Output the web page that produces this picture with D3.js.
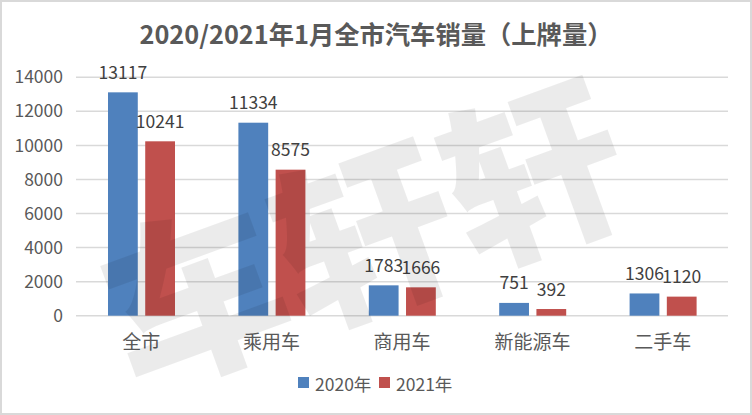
<!DOCTYPE html>
<html><head><meta charset="utf-8">
<script src="https://cdn.jsdelivr.net/npm/d3@7"></script>
<style>body{margin:0;background:#fff}svg{display:block}</style>
</head><body>
<script>
const categories = ["全市","乘用车","商用车","新能源车","二手车"];
const seriesNames = ["2020年","2021年"];
const values2020 = [13117,11334,1783,751,1306];
const values2021 = [10241,8575,1666,392,1120];
const yTicks = [0,2000,4000,6000,8000,10000,12000,14000];
const colors = ["#4f81bd","#c0504d"];
const title = "2020/2021年1月全市汽车销量（上牌量）";

const W=752,H=415;
const svg=d3.select("body").append("svg").attr("width",W).attr("height",H);
const font='"Noto Sans CJK SC","Noto Sans",sans-serif';
svg.append("rect").attr("x",1).attr("y",1).attr("width",W-2).attr("height",H-2)
  .attr("fill","#fff").attr("stroke","#d9d9d9").attr("stroke-width",2);

svg.append("text").attr("x",376).attr("y",33).attr("text-anchor","middle")
  .attr("dominant-baseline","central").attr("font-family",font).attr("font-weight","bold")
  .attr("font-size",25.3).attr("fill","#595959").text(title);

const x=d3.scaleBand().domain(categories).range([76,728]);
const y=d3.scaleLinear().domain([0,14000]).range([315.7,77.3]);
const xs=d3.scaleBand().domain(seriesNames).range([32,99]).paddingInner(0.2);

const g=svg.append("g");
g.selectAll("line.grid").data(yTicks).join("line").attr("class","grid")
  .attr("x1",76).attr("x2",728).attr("y1",d=>y(d)).attr("y2",d=>y(d))
  .attr("stroke","#d9d9d9").attr("stroke-width",1.5);
const yAxis=d3.axisLeft(y).tickValues(yTicks).tickSize(0).tickPadding(0).tickFormat(d3.format("d"));
const ya=svg.append("g").attr("transform","translate(63,0)").call(yAxis);
ya.select(".domain").remove();
ya.selectAll("text").attr("font-family",font).attr("font-size",17.5).attr("fill","#595959");

const series=[values2020,values2021];
series.forEach((vals,si)=>{
  const data=categories.map((c,i)=>({c,v:vals[i]}));
  g.selectAll("rect.s"+si).data(data).join("rect").attr("class","s"+si)
    .attr("x",d=>x(d.c)+xs(seriesNames[si])).attr("width",xs.bandwidth())
    .attr("y",d=>y(d.v)).attr("height",d=>y(0)-y(d.v)).attr("fill",colors[si]);
  g.selectAll("text.l"+si).data(data).join("text").attr("class","l"+si)
    .attr("x",d=>x(d.c)+xs(seriesNames[si])+xs.bandwidth()/2).attr("y",d=>y(d.v)-21)
    .attr("text-anchor","middle").attr("dominant-baseline","central")
    .attr("font-family",font).attr("font-size",17.5).attr("fill","#404040").text(d=>d.v);
});

const xAxis=d3.axisBottom(x).tickSize(0).tickPadding(0);
const xa=svg.append("g").attr("transform","translate(0,340)").call(xAxis);
xa.select(".domain").remove();
xa.selectAll("text").attr("dy",null).attr("dominant-baseline","central")
  .attr("font-family",font).attr("font-size",19).attr("fill","#595959");

// legend
const leg=svg.append("g");
const legX=[298,379];
seriesNames.forEach((s,i)=>{
  leg.append("rect").attr("x",legX[i]).attr("y",377).attr("width",11).attr("height",11).attr("fill",colors[i]);
  leg.append("text").attr("x",legX[i]+17).attr("y",383).attr("dominant-baseline","central")
    .attr("font-family",font).attr("font-size",17.5).attr("fill","#595959").text(s);
});

// watermark
svg.append("text").attr("transform","translate(360,225) rotate(-20)").attr("text-anchor","middle")
  .attr("dominant-baseline","central").attr("font-family",font).attr("font-weight",900)
  .attr("font-size",180).attr("fill","rgba(0,0,0,0.08)").text("车轩轩");
</script>
</body></html>
